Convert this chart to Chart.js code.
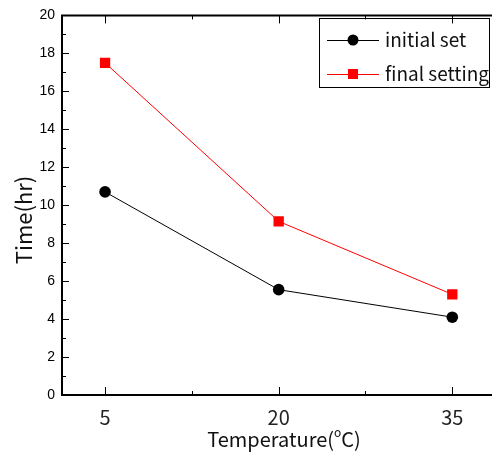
<!DOCTYPE html>
<html>
<head>
<meta charset="utf-8">
<title>Time vs Temperature</title>
<script src="https://cdn.jsdelivr.net/npm/chart.js@4.4.1/dist/chart.umd.min.js"></script>
<style>
    html, body { margin: 0; padding: 0; background: #fff; overflow: hidden; }
    #chart { display: block; width: 492px; height: 460px; }
</style>
</head>
<body>
<canvas id="chart" width="492" height="460"></canvas>
<script>
// Data
const temperatures = [5, 20, 35];
const initialSet = [10.7, 5.55, 4.1];
const finalSetting = [17.5, 9.15, 5.3];
const seriesNames = ['initial set', 'final setting'];
const xTickValues = [5, 20, 35];
const yTickValues = [0, 2, 4, 6, 8, 10, 12, 14, 16, 18, 20];

const LABEL_FONT = '"Noto Sans CJK KR", "Noto Sans", sans-serif';
const NUM_FONT = '"Liberation Sans", Arial, sans-serif';

function toPoints(values) {
    return temperatures.map((t, i) => ({ x: t, y: values[i] }));
}

// Midpoints between major ticks -> minor tick marks
function minorValues(majors, lo, hi) {
    const step = majors[1] - majors[0];
    const out = [];
    for (let v = majors[0] - step / 2; v <= hi; v += step / 2) {
        if (v >= lo && !majors.includes(v)) out.push(v);
    }
    return out;
}

// Frame, inward ticks, axis titles and legend box
const framePlugin = {
    id: 'frame',
    afterDraw(chart) {
        const { ctx, chartArea: a, scales } = chart;
        const xs = scales.x, ys = scales.y;
        ctx.save();

        // tick marks
        ctx.strokeStyle = '#000';
        ctx.lineWidth = 1;
        ctx.beginPath();
        xTickValues.forEach(v => {
            const px = Math.round(xs.getPixelForValue(v)) + 0.5;
            ctx.moveTo(px, a.bottom); ctx.lineTo(px, a.bottom - 8);
            ctx.moveTo(px, a.top); ctx.lineTo(px, a.top + 8);
        });
        minorValues(xTickValues, xs.min, xs.max).forEach(v => {
            const px = Math.round(xs.getPixelForValue(v)) + 0.5;
            ctx.moveTo(px, a.bottom); ctx.lineTo(px, a.bottom - 4);
            ctx.moveTo(px, a.top); ctx.lineTo(px, a.top + 4);
        });
        yTickValues.forEach(v => {
            const py = Math.round(ys.getPixelForValue(v)) + 0.5;
            ctx.moveTo(a.left, py); ctx.lineTo(a.left + 7, py);
        });
        minorValues(yTickValues, ys.min, ys.max).forEach(v => {
            const py = Math.round(ys.getPixelForValue(v)) + 0.5;
            ctx.moveTo(a.left, py); ctx.lineTo(a.left + 4, py);
        });
        ctx.stroke();

        // axis lines; the frame runs on past the right edge
        ctx.lineWidth = 2;
        ctx.beginPath();
        ctx.moveTo(a.left, a.top); ctx.lineTo(chart.width + 2, a.top);
        ctx.moveTo(a.left, a.top - 1); ctx.lineTo(a.left, a.bottom + 1);
        ctx.moveTo(a.left, a.bottom); ctx.lineTo(chart.width + 2, a.bottom);
        ctx.stroke();

        // y title
        ctx.fillStyle = '#111';
        ctx.font = '22px ' + LABEL_FONT;
        ctx.textAlign = 'center';
        ctx.textBaseline = 'middle';
        ctx.save();
        ctx.translate(24, 220);
        ctx.rotate(-Math.PI / 2);
        ctx.fillText('Time(hr)', 0, 0);
        ctx.restore();

        // x title with superscript degree mark
        const partA = 'Temperature(', partB = 'C)';
        ctx.textAlign = 'left';
        ctx.textBaseline = 'alphabetic';
        ctx.font = '20px ' + LABEL_FONT;
        const wA = ctx.measureText(partA).width;
        const wB = ctx.measureText(partB).width;
        ctx.font = '12px ' + LABEL_FONT;
        const wO = ctx.measureText('o').width;
        const total = wA + wO + wB;
        let tx = 284 - total / 2;
        const base = 447;
        ctx.font = '20px ' + LABEL_FONT;
        ctx.fillText(partA, tx, base);
        tx += wA;
        ctx.font = '12px ' + LABEL_FONT;
        ctx.fillText('o', tx, base - 10);
        tx += wO;
        ctx.font = '20px ' + LABEL_FONT;
        ctx.fillText(partB, tx, base);

        // legend
        ctx.lineWidth = 1;
        ctx.strokeStyle = '#000';
        ctx.strokeRect(319.5, 18.5, 170, 69);
        const rows = [40, 74];
        chart.data.datasets.forEach((ds, i) => {
            const y = rows[i];
            ctx.strokeStyle = ds.borderColor;
            ctx.beginPath();
            ctx.moveTo(327, y + 0.5); ctx.lineTo(379, y + 0.5);
            ctx.stroke();
            ctx.fillStyle = ds.pointBackgroundColor;
            if (ds.pointStyle === 'rect') {
                ctx.fillRect(353 - 5, y - 5, 10, 10);
            } else {
                ctx.beginPath();
                ctx.arc(353, y, 5.5, 0, Math.PI * 2);
                ctx.fill();
            }
            ctx.fillStyle = '#111';
            ctx.font = '19px ' + LABEL_FONT;
            ctx.textBaseline = 'middle';
            ctx.textAlign = 'left';
            ctx.fillText(ds.label, 385, y);
        });

        ctx.restore();
    }
};

const ctx = document.getElementById('chart').getContext('2d');
new Chart(ctx, {
    type: 'line',
    data: {
        datasets: [
            {
                label: seriesNames[0],
                data: toPoints(initialSet),
                borderColor: '#000000',
                borderWidth: 1,
                pointStyle: 'circle',
                pointRadius: 5.8,
                pointBackgroundColor: '#000000',
                pointBorderWidth: 0
            },
            {
                label: seriesNames[1],
                data: toPoints(finalSetting),
                borderColor: '#ff0000',
                borderWidth: 1,
                pointStyle: 'rect',
                pointRadius: 7.3,
                pointBackgroundColor: '#ff0000',
                pointBorderWidth: 0
            }
        ]
    },
    options: {
        responsive: false,
        animation: false,
        events: [],
        // plot box runs right up to the canvas edge, no room kept for point overflow
        layout: { autoPadding: false, padding: { top: 14.5, right: 0, left: 0, bottom: 0 } },
        plugins: {
            legend: { display: false },
            tooltip: { enabled: false }
        },
        scales: {
            x: {
                type: 'linear',
                min: 1.28,
                max: 38.43,
                afterFit: s => { s.height = 65; },
                afterBuildTicks: s => { s.ticks = xTickValues.map(v => ({ value: v })); },
                grid: { display: false, drawTicks: false },
                border: { display: false },
                ticks: {
                    padding: 10,
                    color: '#222',
                    font: { family: LABEL_FONT, size: 20 },
                    maxRotation: 0
                }
            },
            y: {
                min: 0,
                max: 20,
                afterFit: s => { s.width = 62; },
                afterBuildTicks: s => { s.ticks = yTickValues.map(v => ({ value: v })); },
                grid: { display: false, drawTicks: false },
                border: { display: false },
                ticks: {
                    padding: 7,
                    color: '#000',
                    font: { family: NUM_FONT, size: 14 }
                }
            }
        }
    },
    plugins: [framePlugin]
});
</script>
</body>
</html>
